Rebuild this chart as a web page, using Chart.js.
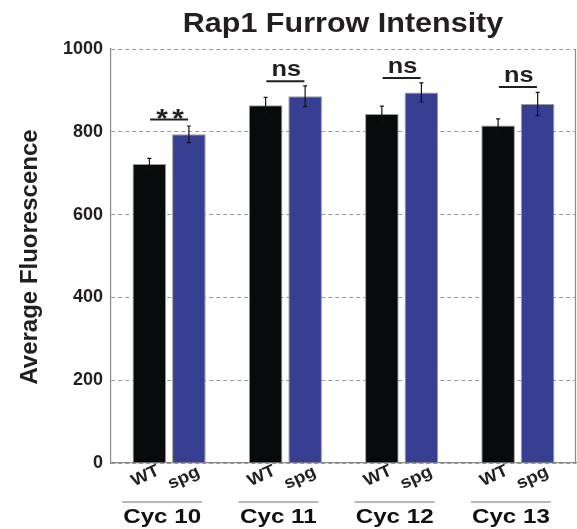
<!DOCTYPE html>
<html>
<head>
<meta charset="utf-8">
<script src="https://cdn.jsdelivr.net/npm/chart.js"></script>
<style>
  html, body { margin: 0; padding: 0; background: #fff; }
  #wrap { width: 577px; height: 529px; }
</style>
</head>
<body>
<div id="wrap"><canvas id="c" width="577" height="529"></canvas></div>
<script>
// ---- data ----
const cycles   = ["Cyc 10", "Cyc 11", "Cyc 12", "Cyc 13"];
const groups   = ["WT", "spg"];
const wtMean   = [722, 864, 843, 815];
const wtErr    = [14, 19, 19, 16];
const spgMean  = [794, 886, 895, 867];
const spgErr   = [20, 25, 23, 28];
const sigLabel = ["**", "ns", "ns", "ns"];
const sigLevel = [830, 922, 930, 908]; // value where the bracket line sits
const yTicks   = [0, 200, 400, 600, 800, 1000];

const FONT = "'Liberation Sans', Arial, Helvetica, sans-serif";
const INK = "#231f20";

// text with a little horizontal stretch, like the source figure
function stretchText(ctx, txt, x, y, size, sx, rot) {
  ctx.save();
  ctx.translate(x, y);
  if (rot) ctx.rotate(rot);
  ctx.scale(sx, 1);
  ctx.font = "bold " + size + "px " + FONT;
  ctx.fillText(txt, 0, 0);
  ctx.restore();
}

// error bars + significance + labels
const extras = {
  id: "extras",
  afterDatasetsDraw(chart) {
    const ctx = chart.ctx;
    const y = chart.scales.y;
    const errs = [wtErr, spgErr];
    ctx.save();
    ctx.strokeStyle = "#111";
    ctx.lineWidth = 1.2;
    chart.data.datasets.forEach((ds, di) => {
      chart.getDatasetMeta(di).data.forEach((bar, i) => {
        const v = ds.data[i], e = errs[di][i];
        const yt = y.getPixelForValue(v + e), yb = y.getPixelForValue(v - e);
        ctx.beginPath();
        ctx.moveTo(bar.x, yt); ctx.lineTo(bar.x, yb);
        ctx.moveTo(bar.x - 2, yt); ctx.lineTo(bar.x + 2, yt);
        ctx.moveTo(bar.x - 2, yb); ctx.lineTo(bar.x + 2, yb);
        ctx.stroke();
      });
    });
    ctx.restore();
  },
  afterDraw(chart) {
    const ctx = chart.ctx;
    const x = chart.scales.x, y = chart.scales.y;
    const m0 = chart.getDatasetMeta(0).data, m1 = chart.getDatasetMeta(1).data;
    ctx.save();
    ctx.fillStyle = INK;
    ctx.textAlign = "center";
    ctx.textBaseline = "alphabetic";

    // title
    stretchText(ctx, "Rap1 Furrow Intensity", 343, 32, 28, 1.09);
    // y title
    stretchText(ctx, "Average Fluorescence", 37, 257, 24, 1.0, -Math.PI / 2);

    cycles.forEach((c, i) => {
      const cx = x.getPixelForValue(i);
      // significance bracket
      const ly = y.getPixelForValue(sigLevel[i]);
      ctx.strokeStyle = INK;
      ctx.lineWidth = 2;
      ctx.beginPath();
      ctx.moveTo(cx - 19, ly); ctx.lineTo(cx + 19, ly);
      ctx.stroke();
      if (sigLabel[i] === "**") {
        stretchText(ctx, "*", cx - 7, ly + 8, 26, 1.15);
        stretchText(ctx, "*", cx + 9, ly + 8, 26, 1.15);
      } else {
        stretchText(ctx, sigLabel[i], cx + 1, ly - 5, 22, 1.15);
      }

      // WT / spg rotated labels
      ctx.textBaseline = "middle";
      stretchText(ctx, groups[0], m0[i].x - 4, 476, 17, 1.1, -0.44);
      stretchText(ctx, groups[1], m1[i].x - 5, 478, 17, 1.1, -0.44);
      ctx.textBaseline = "alphabetic";

      // underline + cycle label
      ctx.strokeStyle = "#a0a0a0";
      ctx.lineWidth = 1.5;
      ctx.beginPath();
      ctx.moveTo(cx - 47, 502); ctx.lineTo(cx + 33, 502);
      ctx.stroke();
      ctx.fillStyle = "#111";
      stretchText(ctx, c, cx - 7, 523, 21, 1.15);
      ctx.fillStyle = INK;
    });
    ctx.restore();
  }
};

new Chart(document.getElementById("c"), {
  type: "bar",
  data: {
    labels: cycles,
    datasets: [
      { label: groups[0], data: wtMean,  backgroundColor: "#070b0b", borderColor: "#9a9a9a", borderWidth: 1 },
      { label: groups[1], data: spgMean, backgroundColor: "#373f93", borderColor: "#9a9a9a", borderWidth: 1 },
    ],
  },
  options: {
    responsive: false,
    animation: false,
    devicePixelRatio: 1,
    layout: { padding: { top: 49, bottom: 66, left: 0, right: 1 } },
    datasets: { bar: { categoryPercentage: 0.68, barPercentage: 0.85 } },
    plugins: { legend: { display: false }, tooltip: { enabled: false }, title: { display: false } },
    scales: {
      x: {
        ticks: { display: false },
        grid: { display: false, drawTicks: false },
        border: { display: true, color: "#8a8a8a", width: 1.2 },
      },
      y: {
        min: 0, max: 1000,
        afterFit: (s) => { s.width = 111; },
        afterBuildTicks: (s) => { s.ticks = yTicks.map(v => ({ value: v })); },
        ticks: {
          color: INK, padding: 8,
          font: { family: FONT, size: 18, weight: "bold" },
          callback: (v) => String(v),
        },
        grid: { color: "#9a9a9a", lineWidth: 1, drawTicks: false, tickLength: 0 },
        border: { display: true, color: "#8a8a8a", width: 1.2, dash: [4, 3] },
        title: { display: false },
      },
    },
  },
  plugins: [extras, {
    id: "frame",
    beforeDatasetsDraw(chart) {
      // right frame edge
      const a = chart.chartArea, ctx = chart.ctx;
      ctx.save();
      ctx.strokeStyle = "#8a8a8a";
      ctx.lineWidth = 1.2;
      ctx.beginPath();
      ctx.moveTo(a.right - 0.5, a.top); ctx.lineTo(a.right - 0.5, a.bottom);
      ctx.stroke();
      ctx.restore();
    }
  }],
});
</script>
</body>
</html>
